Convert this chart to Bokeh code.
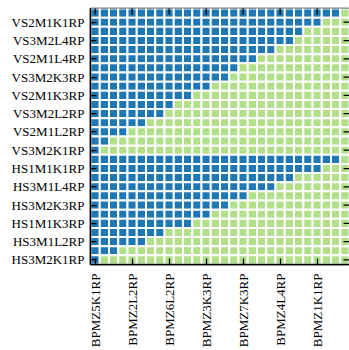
import math
from bokeh.plotting import figure
from bokeh.models import Range1d, FixedTicker, ColumnDataSource
from bokeh.embed import file_html
from bokeh.resources import INLINE

# Row tick labels (every other row of the 28x28 matrix, rows 1,3,...,27)
row_labels = ["VS2M1K1RP", "VS3M2L4RP", "VS2M1L4RP", "VS3M2K3RP", "VS2M1K3RP",
              "VS3M2L2RP", "VS2M1L2RP", "VS3M2K1RP", "HS1M1K1RP", "HS3M1L4RP",
              "HS3M2K3RP", "HS1M1K3RP", "HS3M1L2RP", "HS3M2K1RP"]
row_tick_pos = [1, 3, 5, 7, 9, 11, 13, 15, 17, 19, 21, 23, 25, 27]

# Column tick labels (every fourth column, columns 0,4,...,24)
col_labels = ["BPMZ5K1RP", "BPMZ2L2RP", "BPMZ6L2RP", "BPMZ3K3RP",
              "BPMZ7K3RP", "BPMZ4L4RP", "BPMZ1K1RP"]
col_tick_pos = [0, 4, 8, 12, 16, 20, 24]

n_rows = 28
n_cols = 28
# number of leading "blue" cells in each matrix row (top to bottom)
blue_counts = [27, 25, 23, 22, 20, 18, 16, 15, 13, 11, 9, 8, 6, 4, 2, 1,
               27, 25, 22, 20, 17, 15, 13, 11, 8, 6, 3, 1]

BLUE = "#1f77b4"
GREEN = "#b2df8a"

xs, ys, colors = [], [], []
for r in range(n_rows):
    for c in range(n_cols):
        xs.append(c)
        ys.append(r)
        colors.append(BLUE if c < blue_counts[r] else GREEN)
src = ColumnDataSource(dict(x=xs, y=ys, color=colors))

x_lo, x_hi = -0.5, n_cols - 0.5
y_top, y_bot = -0.5, n_rows - 0.5

p = figure(width=349, height=350, output_backend="svg", toolbar_location=None,
           x_range=Range1d(x_lo, x_hi), y_range=Range1d(y_bot, y_top))
p.min_border_left = 90
p.min_border_top = 8
p.min_border_bottom = 83
p.min_border_right = 0
p.outline_line_color = "black"
p.outline_line_width = 1.5
p.xgrid.visible = False
p.ygrid.visible = False
p.background_fill_color = "white"
p.border_fill_color = "white"

p.rect(x="x", y="y", width=1, height=1, source=src, fill_color="color",
       line_color="white", line_width=2)

# mirrored inward ticks on the top and right edges (half of each dash is clipped by the frame)
p.scatter(x=col_tick_pos, y=[y_top] * len(col_tick_pos), marker="dash", size=12,
          angle=math.pi / 2, line_color="black", line_width=1.25)
p.scatter(x=[x_hi] * len(row_tick_pos), y=row_tick_pos, marker="dash", size=12,
          line_color="black", line_width=1.25)

FONT = "Liberation Serif"

def style_axis(ax):
    ax.axis_line_color = "black"
    ax.axis_line_width = 1.5
    ax.major_tick_in = 6
    ax.major_tick_out = 0
    ax.major_tick_line_color = "black"
    ax.major_tick_line_width = 1.25
    ax.minor_tick_line_color = None
    ax.major_label_text_font = FONT
    ax.major_label_text_font_size = "13px"
    ax.major_label_text_color = "black"

xa = p.xaxis[0]
style_axis(xa)
xa.ticker = FixedTicker(ticks=col_tick_pos)
xa.major_label_overrides = {t: l for t, l in zip(col_tick_pos, col_labels)}
xa.major_label_orientation = math.pi / 2
xa.major_label_standoff = 9

ya = p.yaxis[0]
style_axis(ya)
ya.ticker = FixedTicker(ticks=row_tick_pos)
ya.major_label_overrides = {t: l for t, l in zip(row_tick_pos, row_labels)}
ya.major_label_standoff = 6

open("out.html", "w").write(file_html(p, INLINE))
